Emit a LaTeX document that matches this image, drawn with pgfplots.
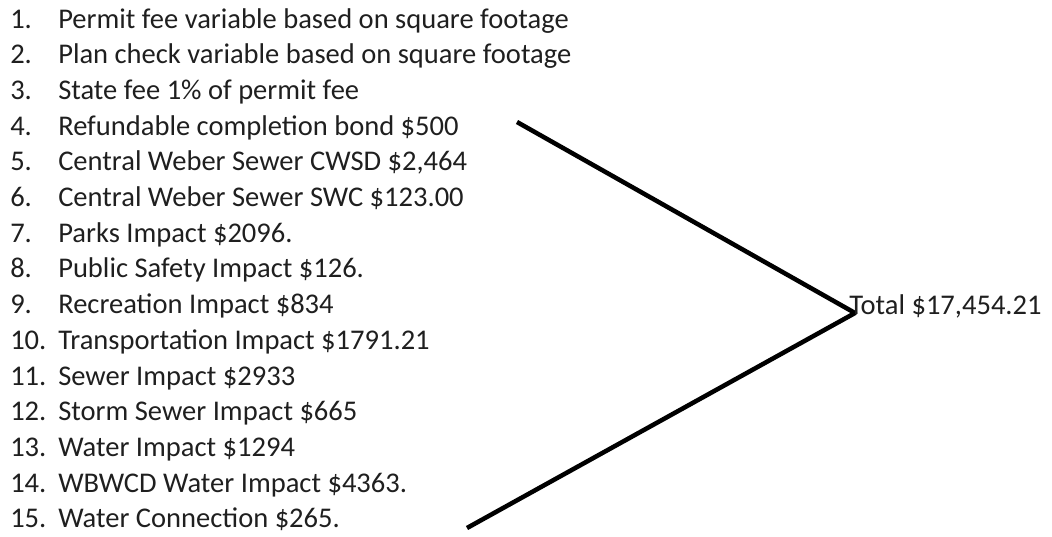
\documentclass[border=0pt]{standalone}
\usepackage{pgfplots}
\pgfplotsset{compat=1.18}
\usepackage{fontspec}
\setmainfont{Carlito}
\tikzset{lbl/.style={font=\fontsize{21.4pt}{25pt}\selectfont, text=black!88, inner sep=0pt, anchor=base west}}
\begin{document}
\begin{tikzpicture}
\begin{axis}[
  width=789pt, height=402pt, scale only axis,
  xmin=0, xmax=1052, ymin=0, ymax=536, y dir=reverse,
  hide axis, clip=false,
]
\path (axis cs:0,0) rectangle (axis cs:1052,536);
\addplot[black, line width=3.4pt, line join=round, mark=none] coordinates {(517,122) (855,313) (467,528)};
\node[lbl] at (axis cs:10,28.0) {1.}; \node[lbl] at (axis cs:58,28.0) {Permit fee variable based on square footage};
\node[lbl] at (axis cs:10,63.7) {2.}; \node[lbl] at (axis cs:58,63.7) {Plan check variable based on square footage};
\node[lbl] at (axis cs:10,99.4) {3.}; \node[lbl] at (axis cs:58,99.4) {State fee 1\% of permit fee};
\node[lbl] at (axis cs:10,135.1) {4.}; \node[lbl] at (axis cs:58,135.1) {Refundable completion bond \$500};
\node[lbl] at (axis cs:10,170.8) {5.}; \node[lbl] at (axis cs:58,170.8) {Central Weber Sewer CWSD \$2,464};
\node[lbl] at (axis cs:10,206.5) {6.}; \node[lbl] at (axis cs:58,206.5) {Central Weber Sewer SWC \$123.00};
\node[lbl] at (axis cs:10,242.2) {7.}; \node[lbl] at (axis cs:58,242.2) {Parks Impact \$2096.};
\node[lbl] at (axis cs:10,277.9) {8.}; \node[lbl] at (axis cs:58,277.9) {Public Safety Impact \$126.};
\node[lbl] at (axis cs:10,313.6) {9.}; \node[lbl] at (axis cs:58,313.6) {Recreation Impact \$834};
\node[lbl] at (axis cs:10,349.3) {10.}; \node[lbl] at (axis cs:58,349.3) {Transportation Impact \$1791.21};
\node[lbl] at (axis cs:10,385.0) {11.}; \node[lbl] at (axis cs:58,385.0) {Sewer Impact \$2933};
\node[lbl] at (axis cs:10,420.7) {12.}; \node[lbl] at (axis cs:58,420.7) {Storm Sewer Impact \$665};
\node[lbl] at (axis cs:10,456.4) {13.}; \node[lbl] at (axis cs:58,456.4) {Water Impact \$1294};
\node[lbl] at (axis cs:10,492.1) {14.}; \node[lbl] at (axis cs:58,492.1) {WBWCD Water Impact \$4363.};
\node[lbl] at (axis cs:10,527.8) {15.}; \node[lbl] at (axis cs:58,527.8) {Water Connection \$265.};
\node[lbl] at (axis cs:849,314.5) {Total \$17,454.21};
\end{axis}
\end{tikzpicture}
\end{document}
